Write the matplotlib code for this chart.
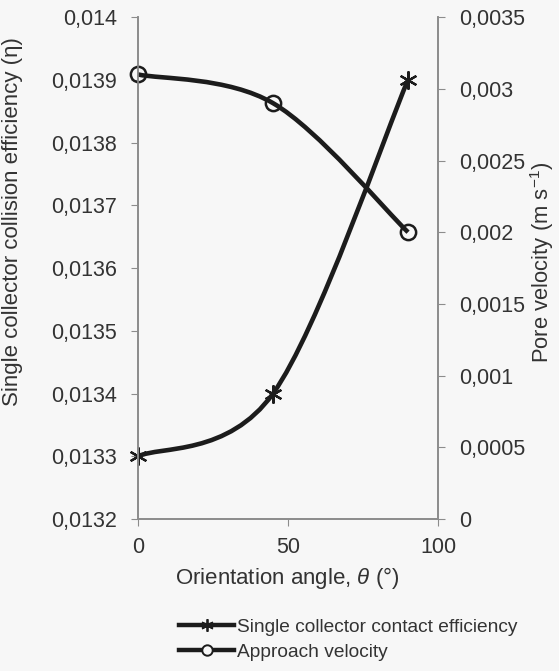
import numpy as np
import matplotlib.pyplot as plt
from matplotlib.path import Path
from matplotlib.patches import PathPatch
from matplotlib.lines import Line2D
from matplotlib.ticker import FuncFormatter, MultipleLocator

# dados
angle = [0, 45, 90]
contact_eff = [0.0133, 0.0134, 0.0139]
approach_vel = [0.0031, 0.0029, 0.0020]

plt.rcParams['font.family'] = ['Liberation Sans', 'DejaVu Sans']
plt.rcParams['mathtext.fontset'] = 'custom'
plt.rcParams['mathtext.it'] = 'Liberation Sans:italic'
plt.rcParams['mathtext.rm'] = 'Liberation Sans'

BG = '#f7f7f7'
INK = '#1c1c1c'
GRID = '#8c8c8c'
TXT = '#333333'
W, H = 559, 671


def smooth_path(x, y):
    # curva suave tipo Excel (Bezier cúbica com tensão 1/6)
    pts = np.column_stack([x, y]).astype(float)
    n = len(pts)
    verts = [pts[0]]
    codes = [Path.MOVETO]
    for i in range(n - 1):
        p0 = pts[max(i - 1, 0)]
        p1 = pts[i]
        p2 = pts[i + 1]
        p3 = pts[min(i + 2, n - 1)]
        c1 = p1 + (p2 - p0) / 6.0
        c2 = p2 - (p3 - p1) / 6.0
        verts += [c1, c2, p2]
        codes += [Path.CURVE4] * 3
    return Path(verts, codes)


comma = FuncFormatter(lambda v, p: ('%g' % v).replace('.', ','))

fig = plt.figure(figsize=(W / 100, H / 100), dpi=100, facecolor=BG)
ax1 = fig.add_axes([0.2469, 0.2265, 0.5367, 0.748])
ax2 = ax1.twinx()
for a in (ax1, ax2):
    a.set_facecolor('none')
    a.spines['top'].set_visible(False)
    for s in ('left', 'right', 'bottom'):
        a.spines[s].set_color(GRID)
        a.spines[s].set_linewidth(1.2)
    a.tick_params(direction='out', length=5, color=GRID, labelsize=15.5, labelcolor=TXT)

ax1.set_xlim(0, 100)
ax1.set_ylim(0.0132, 0.014)
ax2.set_ylim(0, 0.0035)
ax1.xaxis.set_major_locator(MultipleLocator(50))
ax1.yaxis.set_major_locator(MultipleLocator(0.0001))
ax2.yaxis.set_major_locator(MultipleLocator(0.0005))
ax1.yaxis.set_major_formatter(comma)
ax2.yaxis.set_major_formatter(comma)
ax1.tick_params(axis='x', pad=8)
ax1.tick_params(axis='y', pad=10)
ax2.tick_params(axis='y', pad=10)

# linhas suaves
ax1.add_patch(PathPatch(smooth_path(angle, contact_eff), fill=False, edgecolor=INK, lw=3.3, clip_on=False))
ax2.add_patch(PathPatch(smooth_path(angle, approach_vel), fill=False, edgecolor=INK, lw=3.3, clip_on=False))
ax1.plot(angle, contact_eff, ls='none', marker=(6, 2, 0), ms=13, mew=1.6, color=INK, clip_on=False)
ax2.plot(angle, approach_vel, ls='none', marker='o', ms=11, mfc='none', mec=INK, mew=1.8, clip_on=False)

# títulos dos eixos
fig.text(287 / W, 1 - 578 / H, r'Orientation angle, $\mathit{\theta}$ (°)', fontsize=16,
         color=TXT, ha='center', va='center')
fig.text(13 / W, 1 - 222 / H, 'Single collector collision efficiency (η)', fontsize=16,
         color=TXT, ha='center', va='center', rotation=90)
fig.text(542 / W, 1 - 262 / H, r'Pore velocity (m s$^{\mathregular{-1}}$)', fontsize=15.8,
         color=TXT, ha='center', va='center', rotation=90)

handles = [
    Line2D([], [], color=INK, lw=3.2, marker=(6, 2, 0), ms=9, mew=1.3),
    Line2D([], [], color=INK, lw=3.2, marker='o', ms=7.5, mfc=BG, mec=INK, mew=1.4),
]
fig.legend(handles, ['Single collector contact efficiency', 'Approach velocity'],
           loc='upper left', bbox_to_anchor=(0.289, 0.104), frameon=False,
           fontsize=13.8, handlelength=2.9, handletextpad=0.15, labelspacing=0.4,
           labelcolor=TXT)

fig.savefig('out.png', dpi=100, facecolor=BG)
